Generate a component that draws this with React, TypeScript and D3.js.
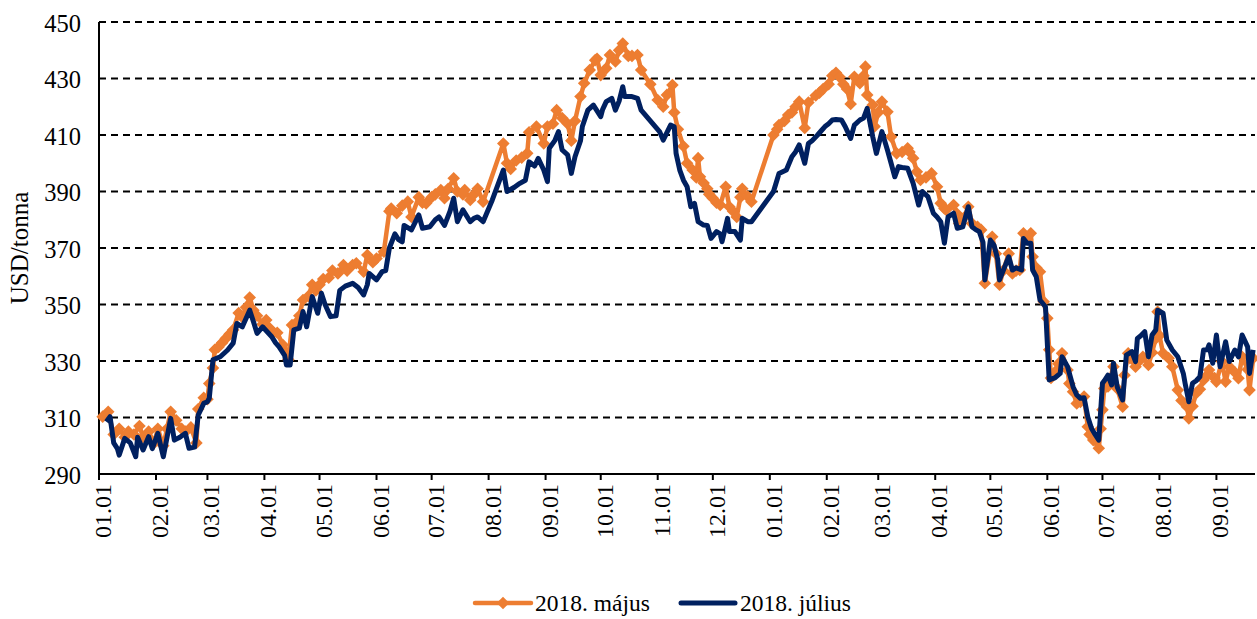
import React from 'react';
import * as d3 from 'd3';

// ---- data -------------------------------------------------------------
// x values are calendar days counted from 2017-01-01
const seriesStart = '2017-01-01';
const domainDays = 629;
const yTicks = [290, 310, 330, 350, 370, 390, 410, 430, 450];
const seriesNames = ['2018. május', '2018. július'];
const yTitle = 'USD/tonna';

const majusDays = [
  2, 5, 8, 11, 14, 16, 19, 22, 24, 27, 30, 32, 35, 37, 39, 42, 45, 47, 50, 53, 54, 57, 59, 60, 62, 63, 65, 67, 69, 71,
  73, 76, 78, 80, 82, 84, 86, 89, 91, 93, 95, 97, 100, 102, 103, 105, 108, 109, 111, 114, 116, 118, 120, 122, 125, 127,
  130, 133, 135, 138, 140, 144, 146, 149, 151, 155, 158, 159, 162, 165, 168, 170, 174, 176, 178, 181, 183, 186, 188, 190,
  193, 195, 198, 199, 202, 204, 206, 209, 220, 222, 224, 227, 230, 233, 234, 238, 242, 244, 247, 249, 252, 255, 257, 259,
  262, 264, 267, 270, 271, 273, 276, 278, 281, 283, 285, 288, 290, 293, 295, 300, 304, 307, 309, 312, 313, 315, 318, 320,
  323, 325, 326, 327, 329, 331, 332, 334, 336, 338, 341, 343, 345, 347, 349, 350, 353, 355, 367, 369, 370, 373, 375, 377,
  379, 381, 384, 386, 390, 392, 394, 397, 399, 401, 403, 405, 407, 409, 411, 414, 416, 417, 418, 421, 422, 424, 426, 429,
  431, 434, 437, 440, 441, 443, 445, 447, 450, 453, 456, 458, 460, 461, 465, 467, 468, 471, 473, 475, 478, 480, 482, 486,
  488, 490, 492, 495, 497, 499, 501, 503, 505, 507, 508, 510, 512, 514, 516, 517, 518, 520, 522, 524, 527, 528, 530, 532,
  534, 536, 538, 539, 541, 544, 545, 546, 547, 549, 552, 554, 557, 558, 560, 561, 564, 566, 568, 571, 573, 575, 576, 577,
  579, 582, 584, 587, 589, 592, 593, 595, 597, 599, 601, 603, 604, 607, 608, 611, 613, 615, 618, 620, 622, 625, 626, 628,
];
const majusValues = [
  310.3, 312, 304, 306, 303, 305, 304, 307, 303, 305, 301, 306, 300, 306, 312, 309, 306, 305, 306.5, 301, 313, 317, 316.5,
  322, 327.5, 334, 335, 336.5, 338, 339.5, 341, 347, 345.5, 349, 352.5, 348, 346, 343, 344.5, 341.5, 340, 340, 335.7, 333,
  330.5, 342.7, 344, 346, 351.6, 353, 357, 355, 357, 359, 359.5, 362, 361, 364, 362, 364, 364.6, 361.6, 367.5, 365, 366.3,
  368.7, 383, 384, 382.3, 385, 386.4, 381, 388, 386, 385.8, 388, 389, 390.5, 387.6, 391, 394.7, 390, 389, 390.5, 387, 389,
  391, 386.4, 407, 400, 398, 401, 402, 403.5, 411, 413, 407, 413, 414, 418.8, 416, 414, 408, 415, 423.6, 428.3, 433,
  436.5, 437, 431.2, 433.6, 438.3, 436, 440, 442.4, 438, 438, 438.3, 433, 428, 422.4, 420, 424.2, 427.7, 418, 412, 406,
  400, 397.6, 395, 401.8, 395.2, 393, 391, 389, 387.6, 386, 385.2, 391.7, 384.6, 383, 381, 388, 391, 388.2, 386.4, 410,
  412, 413.5, 415, 417.1, 418, 420, 421.8, 412.5, 421.5, 424, 425, 426.3, 428, 431, 432, 430.5, 428, 426.3, 421, 430.6,
  428.3, 431, 434.2, 424.2, 420.6, 413, 418, 421.8, 418.2, 409.4, 403.5, 404, 405.3, 404, 401.8, 397, 394.1, 395, 396.4,
  391.7, 385.8, 384, 383.5, 385.2, 382, 378.7, 381, 384.6, 378.7, 377.5, 376.4, 357.5, 374, 368, 357, 362, 368, 361, 362,
  362.2, 375.2, 373, 375.2, 366.9, 363, 361.6, 351, 345.1, 334, 324, 326, 329, 332.7, 326.8, 322, 319.1, 315, 315.5, 317.4,
  306.7, 304, 302, 299.1, 306, 312.7, 320.3, 321, 328, 320.3, 313.8, 325, 332.7, 331, 328, 330, 331.5, 328.6, 333, 338,
  347.4, 339, 332.7, 331, 328, 319.7, 316, 313.8, 309.7, 314, 318.6, 320, 323.3, 325, 326.8, 324, 322.7, 329.8, 322.7, 328,
  326, 323.9, 331.5, 327, 319.7, 331,
];

const juliusDays = [
  4, 6, 8, 10, 11, 14, 17, 20, 21, 24, 27, 29, 32, 35, 39, 41, 44, 47, 49, 52, 54, 57, 59, 60, 62, 66, 70, 73, 75, 78, 82,
  84, 86, 89, 92, 94, 96, 98, 101, 102, 104, 106, 109, 111, 113, 116, 119, 121, 123, 126, 129, 131, 134, 138, 141, 144,
  146, 147, 151, 154, 156, 158, 161, 163, 165, 166, 170, 174, 176, 180, 183, 185, 188, 191, 193, 195, 198, 202, 204, 206,
  209, 214, 220, 222, 226, 229, 232, 234, 237, 239, 242, 244, 245, 248, 250, 252, 255, 257, 259, 262, 263, 266, 269, 273,
  274, 276, 279, 281, 283, 285, 286, 290, 293, 295, 305, 307, 311, 313, 314, 316, 318, 320, 322, 324, 326, 329, 331, 333,
  336, 338, 339, 342, 343, 346, 349, 350, 353, 355, 367, 370, 374, 377, 379, 381, 384, 386, 388, 391, 393, 395, 397, 399,
  401, 404, 406, 409, 411, 414, 416, 418, 421, 423, 426, 429, 431, 433, 435, 437, 440, 443, 446, 448, 451, 454, 456, 458,
  460, 462, 465, 467, 470, 473, 475, 477, 479, 481, 482, 485, 487, 489, 490, 492, 495, 497, 499, 502, 503, 505, 507, 508,
  510, 512, 515, 517, 520, 523, 524, 527, 530, 532, 534, 536, 538, 540, 542, 544, 546, 547, 549, 551, 552, 554, 557, 559,
  562, 564, 565, 567, 569, 571, 573, 575, 576, 579, 581, 584, 587, 590, 591, 593, 595, 597, 599, 601, 603, 604, 606, 608,
  610, 613, 615, 618, 620, 622, 625, 626, 628,
];
const juliusValues = [
  308.5, 310.3, 301, 299, 296.7, 302.6, 301, 296.1, 303, 298.5, 303.2, 299, 304.4, 296.1, 309.7, 302, 303, 304.4, 299.1,
  299.5, 310.9, 315, 315.6, 316.8, 330.4, 331.5, 333.9, 336.3, 343.3, 342.1, 348, 344, 339.8, 342.1, 340, 338.6, 336.5,
  335, 332, 328.6, 328.6, 341, 341.6, 347.5, 342.1, 352.8, 346.9, 354, 350, 345.7, 346, 355, 356.5, 357.5, 356, 353.4, 357,
  361, 358.7, 361.6, 362, 370, 375, 373, 372.2, 378, 376.4, 381.7, 377, 377.5, 380, 381, 378, 383, 387.6, 379.3, 383.5,
  379.3, 380.5, 381, 379.3, 387, 397.6, 390, 391.5, 392.9, 394, 400.5, 399, 401.7, 397.6, 393.5, 405.3, 408, 411.2, 404.7,
  403, 396.4, 402.3, 408, 413, 418.8, 420.6, 416.5, 419, 421.8, 423, 418.8, 422, 427.1, 423.6, 423.6, 423, 418.8, 411.2,
  408.2, 413.5, 412.9, 403.5, 397.6, 394, 391.7, 384.6, 385.8, 379.3, 378.1, 378, 373.4, 375.8, 375, 372.2, 380.5, 375.8,
  375.8, 372.8, 380.5, 379.3, 379.3, 390, 396.4, 397.6, 402.3, 404, 406.5, 400, 407, 408, 410, 411.5, 413, 414, 415.3,
  415.5, 415.3, 413, 408.8, 413.5, 415.3, 416, 419.4, 409.4, 403.5, 411.2, 404.7, 400, 395.2, 398.8, 398.5, 398.2, 392.9,
  385.2, 390, 388.2, 382.3, 381, 379.3, 371.7, 381, 382.3, 377, 377.5, 384.6, 377.5, 376.5, 375.8, 372, 358.7, 372.8, 371,
  366, 358.7, 362, 366.9, 362.2, 363, 362.2, 373.4, 371.7, 371.7, 362.2, 359.8, 351.6, 349.2, 323.3, 324, 325.6, 331.5,
  328, 320.9, 318, 316.8, 317, 310.3, 306.2, 304, 302, 322.1, 323, 325, 321.5, 329.2, 320.9, 316.2, 332.1, 333.3, 329.8,
  338, 339, 340.4, 331.5, 339.2, 341, 348, 346.9, 337.4, 333.9, 331.5, 325.6, 322, 315.6, 322.1, 323, 324.4, 333.9, 334,
  335.7, 329.2, 339.2, 328, 336.8, 329.8, 333.9, 331.5, 339.2, 335, 325.6, 333.9,
];

// ---- chart ------------------------------------------------------------
const W = 1257;
const H = 619;
const plot = { left: 99, right: 1255, top: 22, bottom: 474 };
const ORANGE = '#ED7D31';
const NAVY = '#002060';
const FONT = '"Liberation Serif", "Times New Roman", serif';
const FS = 23.5;

type Pt = { date: Date; v: number };

export default function App() {
  const start = d3.timeParse('%Y-%m-%d')(seriesStart) as Date;
  const end = d3.timeDay.offset(start, domainDays);
  const x = d3.scaleTime().domain([start, end]).range([plot.left, plot.right]);
  const y = d3.scaleLinear().domain([yTicks[0], yTicks[yTicks.length - 1]]).range([plot.bottom, plot.top]);

  const majus: Pt[] = majusDays.map((d, i) => ({ date: d3.timeDay.offset(start, d), v: majusValues[i] }));
  const julius: Pt[] = juliusDays.map((d, i) => ({ date: d3.timeDay.offset(start, d), v: juliusValues[i] }));

  const line = d3
    .line<Pt>()
    .x((p) => x(p.date))
    .y((p) => y(p.v));

  const months = d3.timeMonth.range(start, end);
  const fmt = d3.timeFormat('%m.%d');
  const diamond = 'M0,-6.3L6.3,0L0,6.3L-6.3,0Z';

  return (
    <svg
      width={W}
      height={H}
      style={{ position: 'absolute', left: 0, top: 0, background: '#fff' }}
      fontFamily={FONT}
    >
      <rect x={0} y={0} width={W} height={H} fill="#fff" />
      {/* gridlines */}
      {yTicks.slice(1).map((t) => (
        <line
          key={t}
          x1={plot.left}
          x2={plot.right}
          y1={y(t)}
          y2={y(t)}
          stroke="#000"
          strokeWidth={2}
          strokeDasharray="7,5"
        />
      ))}
      {/* y labels */}
      {yTicks.map((t) => (
        <text key={t} x={81} y={y(t) + 9.5} textAnchor="end" fontSize={FS + 1} fill="#000">
          {t}
        </text>
      ))}
      {/* y title */}
      <text
        transform={`translate(28, 248) rotate(-90)`}
        textAnchor="middle"
        fontSize={FS + 1.5}
        fill="#000"
      >
        {yTitle}
      </text>
      {/* x ticks and labels */}
      {months.map((m) => (
        <g key={m.getTime()}>
          <line x1={x(m)} x2={x(m)} y1={plot.bottom} y2={plot.bottom + 6} stroke="#000" strokeWidth={2} />
          <text
            transform={`translate(${x(m) + 4}, ${plot.bottom + 10}) rotate(-90)`}
            textAnchor="end"
            dominantBaseline="central"
            fontSize={FS + 0.5}
            fill="#000"
          >
            {fmt(m)}
          </text>
        </g>
      ))}
      {/* axes */}
      <line x1={plot.left} x2={plot.right} y1={plot.bottom} y2={plot.bottom} stroke="#000" strokeWidth={2} />
      <line x1={plot.left} x2={plot.left} y1={plot.top} y2={plot.bottom} stroke="#000" strokeWidth={2} />

      {/* series */}
      <path d={line(majus) || ''} fill="none" stroke={ORANGE} strokeWidth={4.5} strokeLinejoin="round" />
      {majus.map((p, i) => (
        <path key={i} d={diamond} transform={`translate(${x(p.date)},${y(p.v)})`} fill={ORANGE} />
      ))}
      <path d={line(julius) || ''} fill="none" stroke={NAVY} strokeWidth={5} strokeLinejoin="round" />

      {/* legend */}
      <g>
        <line x1={475} x2={531} y1={603} y2={603} stroke={ORANGE} strokeWidth={4.5} strokeLinecap="round" />
        <path d={diamond} transform="translate(503,603)" fill={ORANGE} />
        <text x={535} y={611} fontSize={FS} fill="#000">
          {seriesNames[0]}
        </text>
        <line x1={681} x2={735} y1={603} y2={603} stroke={NAVY} strokeWidth={5} strokeLinecap="round" />
        <text x={740} y={611} fontSize={FS} fill="#000">
          {seriesNames[1]}
        </text>
      </g>
    </svg>
  );
}
